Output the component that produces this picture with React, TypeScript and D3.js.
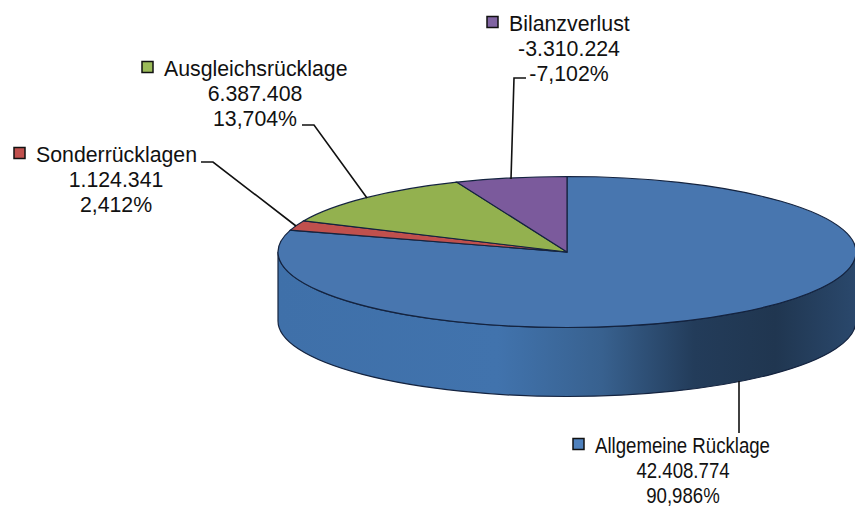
import * as d3 from 'd3';

const categories = ['Allgemeine Rücklage', 'Sonderrücklagen', 'Ausgleichsrücklage', 'Bilanzverlust'];
const amounts = [42408774, 1124341, 6387408, -3310224];
const shares = [90.986, 2.412, 13.704, -7.102];
const sliceColors = ['#4876af', '#c0504d', '#93b14f', '#7b5a9c'];
const keyColors = ['#4f81bd', '#c0504d', '#9bbb59', '#8064a2'];

const width = 855;
const height = 507;
const cx = 567;
const cy = 252;
const rx = 289;
const ry = 75.5;
const depth = 69;

// where each label sits, picked by hand against the picture
// the bottom label is squeezed sideways in the original, hence squeeze
const labelLayout = [
  { textX: 595, centerX: 683, baseline: 453, squeeze: 0.875, leader: [[739, 381], [739, 433]] },
  { textX: 36, centerX: 116, baseline: 162, squeeze: 1, leader: [[201, 162], [213, 162], [296, 226]] },
  { textX: 164, centerX: 255, baseline: 76, squeeze: 1, leader: [[302, 125], [314, 125], [367, 198]] },
  { textX: 509, centerX: 569, baseline: 31, squeeze: 1, leader: [[526, 78], [514, 78], [511, 179]] },
];

const de = d3.formatLocale({ decimal: ',', thousands: '.', grouping: [3], currency: ['', '€'] });
const sign = (v: number) => (v < 0 ? '-' : '');
const fmtAmount = (v: number) => sign(v) + de.format(',d')(Math.abs(v));
const fmtShare = (v: number) => sign(v) + de.format('.3f')(Math.abs(v)) + '%';

export default function App() {
  const pie = d3.pie<number>().sort(null).value(d => Math.abs(d));
  const arcs = pie(amounts);
  const arc = d3.arc<d3.PieArcDatum<number>>().innerRadius(0).outerRadius(rx);
  const line = d3.line();

  const sidePath =
    `M${cx - rx},${cy} A${rx},${ry} 0 0 0 ${cx + rx},${cy} ` +
    `L${cx + rx},${cy + depth} A${rx},${ry} 0 0 1 ${cx - rx},${cy + depth} Z`;

  return (
    <svg
      width={width}
      height={height}
      style={{ position: 'absolute', left: 0, top: 0, background: '#fff' }}
      fontFamily="'Liberation Sans', Arial, sans-serif"
    >
      <defs>
        <linearGradient id="side" gradientUnits="userSpaceOnUse" x1={cx - rx} y1={0} x2={cx + rx} y2={0}>
          <stop offset="0%" stopColor="#3f70a9" />
          <stop offset="38%" stopColor="#4173ad" />
          <stop offset="56%" stopColor="#38618f" />
          <stop offset="72%" stopColor="#233c5a" />
          <stop offset="86%" stopColor="#203650" />
          <stop offset="100%" stopColor="#2a486c" />
        </linearGradient>
      </defs>

      <path d={sidePath} fill="url(#side)" stroke="#14233f" strokeWidth={1.2} />

      <g transform={`translate(${cx},${cy}) scale(1,${ry / rx})`}>
        {arcs.map((d, i) => (
          <path
            key={categories[i]}
            d={arc(d) ?? ''}
            fill={sliceColors[i]}
            stroke="#14233f"
            strokeWidth={1.2}
            vectorEffect="non-scaling-stroke"
          />
        ))}
      </g>

      {labelLayout.map((l, i) => (
        <path
          key={i}
          d={line(l.leader as [number, number][]) ?? ''}
          fill="none"
          stroke="#111"
          strokeWidth={1.6}
        />
      ))}

      {categories.map((name, i) => {
        const l = labelLayout[i];
        return (
          <g key={name} fontSize={21.3} fill="#111">
            <rect
              x={l.textX - 22}
              y={l.baseline - 14.5}
              width={11}
              height={11}
              fill={keyColors[i]}
              stroke="#111"
              strokeWidth={1.5}
            />
            <g transform={`translate(${l.textX},${l.baseline}) scale(${l.squeeze},1)`}>
              <text>{name}</text>
            </g>
            <g transform={`translate(${l.centerX},${l.baseline + 25}) scale(${l.squeeze},1)`}>
              <text textAnchor="middle">{fmtAmount(amounts[i])}</text>
            </g>
            <g transform={`translate(${l.centerX},${l.baseline + 49.5}) scale(${l.squeeze},1)`}>
              <text textAnchor="middle">{fmtShare(shares[i])}</text>
            </g>
          </g>
        );
      })}
    </svg>
  );
}
